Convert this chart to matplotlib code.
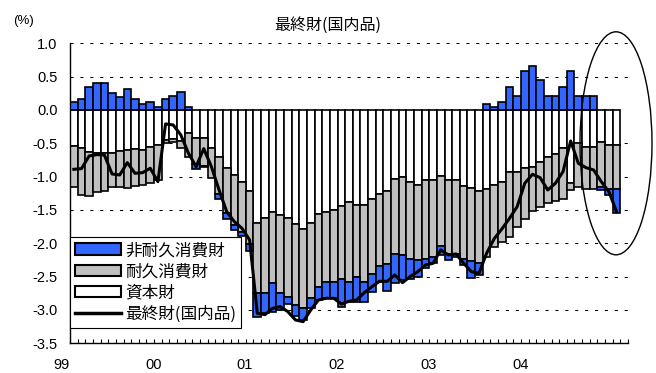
import numpy as np
import matplotlib
matplotlib.use('Agg')
import matplotlib.pyplot as plt
from matplotlib.patches import Patch, Ellipse
from matplotlib.lines import Line2D

plt.rcParams['axes.unicode_minus'] = False
cjk = ['Noto Sans CJK JP', 'DejaVu Sans']
num_font = 'Liberation Sans'

# monthly data, Jan 1999 - Dec 2004 (contributions, %)
capital = [-0.54, -0.575, -0.63, -0.65, -0.65, -0.64, -0.62, -0.60, -0.58, -0.60, -0.55, -0.52,
           -0.45, -0.44, -0.46, -0.35, -0.42, -0.42, -0.57, -0.70, -0.875, -0.975, -1.075, -1.21,
           -1.70, -1.625, -1.525, -1.575, -1.625, -1.715, -1.79, -1.69, -1.56, -1.535, -1.50, -1.44,
           -1.375, -1.425, -1.425, -1.34, -1.26, -1.21, -1.04, -1.01, -1.075, -1.125, -1.05, -1.05,
           -0.99, -1.05, -1.05, -1.14, -1.175, -1.21, -1.19, -1.12, -1.075, -0.925, -0.925, -0.875,
           -0.85, -0.775, -0.70, -0.665, -0.575, -1.10, -0.50, -0.56, -0.56, -0.48, -0.52, -0.52]
gray_bottom = [-1.15, -1.275, -1.285, -1.225, -1.21, -1.16, -1.16, -1.165, -1.14, -1.125, -1.09, -1.05,
               -0.50, -0.48, -0.57, -0.70, -0.815, -0.84, -1.025, -1.26, -1.55, -1.725, -1.825, -2.01,
               -2.74, -2.74, -2.60, -2.74, -2.80, -2.925, -2.975, -2.825, -2.66, -2.575, -2.575, -2.535,
               -2.575, -2.50, -2.575, -2.46, -2.34, -2.31, -2.16, -2.175, -2.235, -2.25, -2.24, -2.20,
               -2.035, -2.16, -2.16, -2.24, -2.26, -2.29, -2.20, -2.05, -1.98, -1.90, -1.76, -1.63,
               -1.52, -1.45, -1.40, -1.37, -1.33, -1.20, -1.15, -1.19, -1.19, -1.15, -1.19, -1.19]
nondurable = [0.125, 0.165, 0.35, 0.41, 0.41, 0.26, 0.20, 0.31, 0.17, 0.085, 0.125, 0.04,
              0.17, 0.215, 0.265, 0.04, -0.075, -0.02, 0.0, -0.08, -0.085, -0.075, -0.06, -0.10,
              -0.36, -0.31, -0.43, -0.26, -0.11, -0.165, -0.175, -0.15, -0.19, -0.25, -0.25, -0.425,
              -0.31, -0.375, -0.31, -0.265, -0.235, -0.405, -0.44, -0.375, -0.30, -0.25, -0.135, -0.10,
              -0.14, -0.09, -0.04, -0.085, -0.265, -0.185, 0.085, 0.04, 0.125, 0.35, 0.215, 0.585,
              0.665, 0.45, 0.215, 0.215, 0.35, 0.585, 0.215, 0.215, 0.215, -0.05, -0.09, -0.36]
final_goods = [-0.89, -0.88, -0.69, -0.67, -0.675, -0.96, -0.975, -0.79, -0.95, -0.94, -0.875, -1.075,
               -0.21, -0.225, -0.375, -0.65, -0.85, -0.58, -0.85, -1.20, -1.525, -1.675, -1.775, -1.95,
               -3.05, -3.07, -2.975, -2.95, -3.025, -3.15, -3.175, -3.00, -2.85, -2.825, -2.825, -2.91,
               -2.87, -2.85, -2.74, -2.65, -2.57, -2.57, -2.475, -2.59, -2.50, -2.425, -2.325, -2.30,
               -2.10, -2.175, -2.16, -2.30, -2.425, -2.45, -2.15, -1.93, -1.785, -1.625, -1.45, -1.10,
               -0.965, -1.015, -1.20, -1.10, -0.925, -0.465, -0.80, -0.865, -0.90, -1.075, -1.225, -1.525]
year_labels = ['99', '00', '01', '02', '03', '04']
labels = ['非耐久消費財', '耐久消費財', '資本財', '最終財(国内品)']

capital = np.array(capital)
gray_bottom = np.array(gray_bottom)
durable = gray_bottom - capital
nondurable = np.array(nondurable)
x = np.arange(len(capital)) + 0.5

blue = '#3366ff'
grey = '#c0c0c0'

fig = plt.figure(figsize=(6.56, 3.73), dpi=100)
ax = fig.add_axes([70 / 656, (373 - 343.3) / 373, 558 / 656, 300 / 373])

for yv in [1.0, 0.5, -0.5, -1.0, -1.5, -2.0, -2.5, -3.0]:
    ax.axhline(yv, color='black', lw=0.75, ls=(0, (3, 6.5)), zorder=0)

ek = dict(width=1.0, edgecolor='black', linewidth=1.2, zorder=2)
ax.bar(x, capital, color='white', **ek)
ax.bar(x, durable, bottom=capital, color=grey, **ek)
pos = nondurable > 0
neg = nondurable < 0
ax.bar(x[pos], nondurable[pos], color=blue, **ek)
ax.bar(x[neg], nondurable[neg], bottom=gray_bottom[neg], color=blue, **ek)
ax.plot(x, final_goods, color='black', lw=2.2, zorder=4)

ax.set_xlim(0, 73)
ax.set_ylim(-3.5, 1.0)
ax.spines['top'].set_visible(False)
ax.spines['right'].set_visible(False)
for s in ['left', 'bottom']:
    ax.spines[s].set_linewidth(1.0)

ax.set_yticks(np.arange(-3.5, 1.01, 0.5))
ax.set_yticklabels(['%.1f' % v for v in np.arange(-3.5, 1.01, 0.5)],
                   fontsize=10.5, fontname=num_font)
ax.tick_params(axis='y', length=0, pad=9)

# month ticks inside, year labels as text (first one sits left of the axis)
ax.set_xticks(np.arange(0, 74), minor=True)
ax.set_xticks([])
ax.tick_params(axis='x', which='minor', direction='in', length=3, width=0.8)
for k, lab in enumerate(year_labels):
    ax.text(12 * k - 1.1, -0.073, lab, transform=ax.get_xaxis_transform(),
            ha='center', va='center', fontsize=10.5, fontname=num_font, clip_on=False)

ell = Ellipse((71.43, -0.5), width=9.42, height=3.345, fill=False,
              edgecolor='black', lw=1.0, clip_on=False, zorder=5)
ax.add_patch(ell)

handles = [Patch(facecolor=blue, edgecolor='black', lw=1.5),
           Patch(facecolor=grey, edgecolor='black', lw=1.5),
           Patch(facecolor='white', edgecolor='black', lw=1.5),
           Line2D([0], [0], color='black', lw=2.5)]
leg = ax.legend(handles, labels, loc='upper left', bbox_to_anchor=(0, 0.354),
                borderaxespad=0, prop={'family': cjk, 'size': 12},
                handlelength=2.75, handleheight=0.7, handletextpad=0.25,
                labelspacing=0.25, borderpad=0.3, fancybox=False, framealpha=1)
leg.get_frame().set_edgecolor('black')
leg.get_frame().set_linewidth(0.8)
leg.set_zorder(6)

fig.text(0.5, 1 - 25 / 373, '最終財(国内品)', ha='center', va='center',
         fontsize=11.5, family=cjk)
fig.text(24 / 656, 1 - 21 / 373, '(%)', ha='center', va='center',
         fontsize=9.5, fontname=num_font)

fig.savefig('out.png', dpi=100)
